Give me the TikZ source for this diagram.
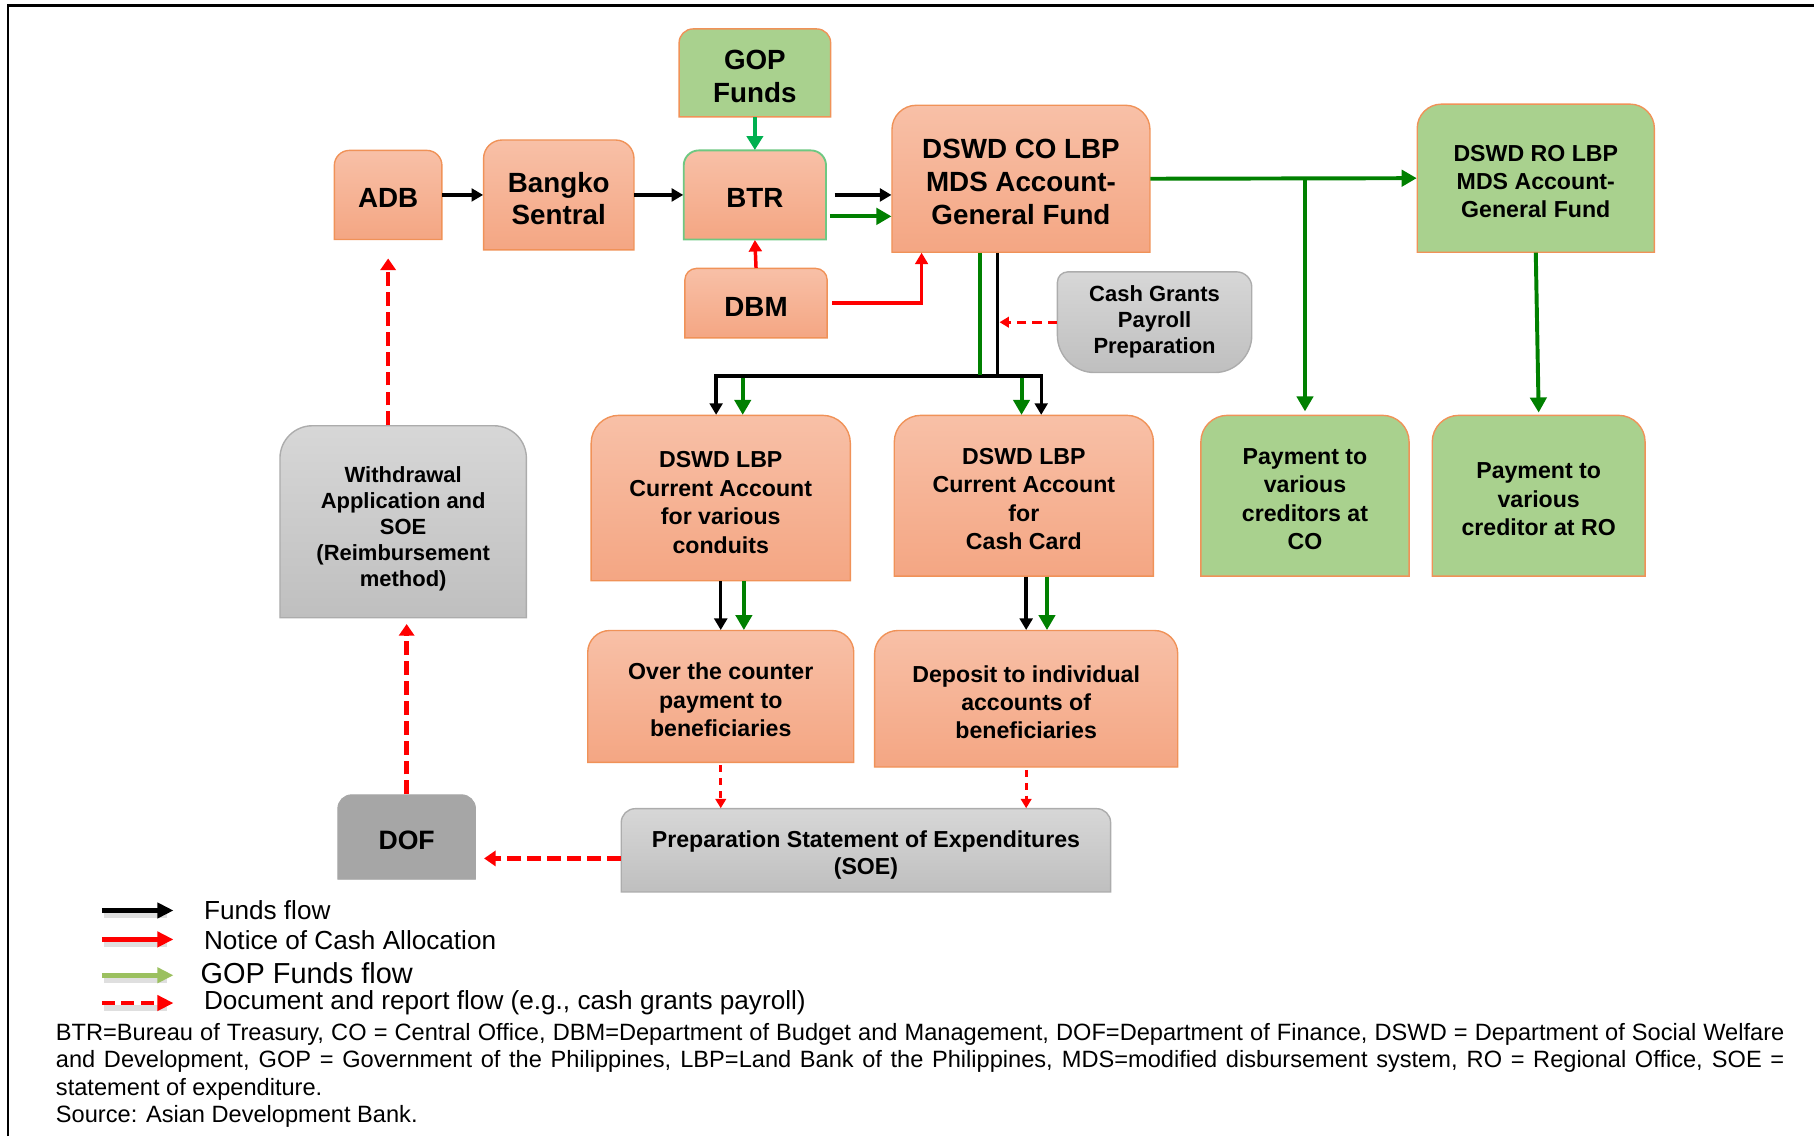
\documentclass[tikz,border=0pt]{standalone}
\usepackage{fontspec}
\setmainfont{Liberation Sans}
\usetikzlibrary{arrows.meta,calc}
\definecolor{orTop}{RGB}{248,192,167}
\definecolor{orBot}{RGB}{244,166,131}
\definecolor{orLine}{RGB}{240,146,88}
\definecolor{grFill}{RGB}{169,209,142}
\definecolor{gyTop}{RGB}{215,215,215}
\definecolor{gyBot}{RGB}{191,191,191}
\definecolor{gyLine}{RGB}{172,172,172}
\definecolor{dofGray}{RGB}{166,166,166}
\definecolor{flowGreen}{RGB}{0,128,0}
\definecolor{gopGreen}{RGB}{0,176,80}
\definecolor{legGreen}{RGB}{155,192,95}
\definecolor{btrLine}{RGB}{110,200,130}
\definecolor{nRed}{RGB}{255,0,0}
\tikzset{
  orangebox/.style={top color=orTop, bottom color=orBot, draw=orLine, line width=0.6pt},
  greenbox/.style={fill=grFill, draw=orLine, line width=0.6pt},
  btrbox/.style={top color=orTop, bottom color=orBot, draw=btrLine, line width=0.8pt},
  graybox/.style={top color=gyTop, bottom color=gyBot, draw=gyLine, line width=0.6pt},
  dofbox/.style={fill=dofGray, draw=dofGray, line width=0.4pt},
  boxtext/.style={inner sep=0pt, align=center, text=black},
  fundsflow/.style={draw=black, line width=1.45pt, -{Triangle[length=5pt,width=5.5pt]}},
  fundsline/.style={draw=black, line width=1.45pt},
  gopflow/.style={draw=flowGreen, line width=1.7pt, -{Triangle[length=6.5pt,width=7pt]}},
  gopline/.style={draw=flowGreen, line width=1.7pt},
  gopsrc/.style={draw=gopGreen, line width=1.7pt, -{Triangle[length=6pt,width=7pt]}},
  noticeflow/.style={draw=nRed, line width=1.5pt, -{Triangle[length=5pt,width=5.5pt]}},
  docflow/.style={draw=nRed, line width=2pt, dash pattern=on 6pt off 2.6pt, -{Triangle[length=5pt,width=6.5pt]}},
  docsmall/.style={draw=nRed, line width=1.2pt, dash pattern=on 3pt off 2.6pt, -{Triangle[length=4pt,width=4.5pt]}},
  legtext/.style={inner sep=0pt, anchor=base west, font=\fontsize{11.3}{13}\selectfont},
  legshadow/.style={draw=black!25, line width=2.6pt, opacity=0.5},
}
\newcommand\boxdrop{1.5pt}
\newcommand\mybox[9]{%
  \path[#7] (#2,#5) -- (#2,{#3+#6}) .. controls (#2,{#3+0.448*#6}) and ({#2+0.448*#6},#3) .. ({#2+#6},#3)
     -- ({#4-#6},#3) .. controls ({#4-0.448*#6},#3) and (#4,{#3+0.448*#6}) .. (#4,{#3+#6})
     -- (#4,#5) -- cycle;
  \node[inner sep=0pt, minimum width={(#4-#2)*0.5pt}, minimum height={(#5-#3)*0.5pt}] (#1) at ({(#2+#4)/2},{(#3+#5)/2}) {};
  \node[boxtext, font={#8}] (#1-t) at ([yshift=-\boxdrop]#1.center) {#9};
}
\begin{document}
\begin{tikzpicture}[x=0.5pt,y=-0.5pt]
\useasboundingbox (0,0) rectangle (1568,982);
% frame
\coordinate (fa) at (7,982);
\coordinate (fb) at (7,5);
\coordinate (fc) at (1568,5);
\draw[line width=1.2pt] (fa) -- (fb) -- (fc);

% boxes
\mybox{adb}{289}{130}{382}{207}{13}{orangebox}{\fontsize{12}{14}\selectfont\bfseries}{ADB}
\mybox{bs}{418}{121}{548}{216}{16}{orangebox}{\fontsize{12}{14}\selectfont\bfseries}{Bangko\\Sentral}
\mybox{gop}{587}{25}{718}{101}{12}{greenbox}{\fontsize{12}{14}\selectfont\bfseries}{GOP\\Funds}
\mybox{btr}{591}{130}{714}{207}{13}{btrbox}{\fontsize{12}{14}\selectfont\bfseries}{BTR}
\mybox{dbm}{592}{232}{715}{292}{10}{orangebox}{\fontsize{12}{14}\selectfont\bfseries}{DBM}
\mybox{dswco}{771}{91}{994}{218}{21}{orangebox}{\fontsize{12}{14.25}\selectfont\bfseries}{DSWD CO LBP\\MDS Account-\\General Fund}
\mybox{dswro}{1225}{90}{1430}{218}{21}{greenbox}{\fontsize{10}{12.25}\selectfont\bfseries}{DSWD RO LBP\\MDS Account-\\General Fund}
\renewcommand\boxdrop{3pt}
\mybox{wd}{242}{368}{455}{534}{28}{graybox}{\fontsize{9.5}{11.25}\selectfont\bfseries}{Withdrawal\\Application and\\SOE\\(Reimbursement\\method)}
\renewcommand\boxdrop{2pt}
\mybox{cond}{511}{359}{735}{502}{24}{orangebox}{\fontsize{10}{12.3}\selectfont\bfseries}{DSWD LBP\\Current Account\\for various\\conduits}
\renewcommand\boxdrop{1.5pt}
\mybox{card}{773}{359}{997}{498}{23}{orangebox}{\fontsize{10}{12.3}\selectfont\bfseries}{DSWD LBP\\Current Account\\for\\Cash Card}
\mybox{payco}{1038}{359}{1218}{498}{23}{greenbox}{\fontsize{10}{12.3}\selectfont\bfseries}{Payment to\\various\\creditors at\\CO}
\mybox{payro}{1238}{359}{1422}{498}{23}{greenbox}{\fontsize{10}{12.3}\selectfont\bfseries}{Payment to\\various\\creditor at RO}
\mybox{otc}{508}{545}{738}{659}{19}{orangebox}{\fontsize{10}{12.3}\selectfont\bfseries}{Over the counter\\payment to\\beneficiaries}
\mybox{dep}{756}{545}{1018}{663}{20}{orangebox}{\fontsize{10}{12}\selectfont\bfseries}{Deposit to individual\\accounts of\\beneficiaries}
\mybox{dof}{292}{687}{411}{760}{12}{dofbox}{\fontsize{11.5}{13}\selectfont\bfseries}{DOF}
\renewcommand\boxdrop{2pt}
\mybox{soe}{537}{699}{960}{771}{12}{graybox}{\fontsize{10}{12}\selectfont\bfseries}{Preparation Statement of Expenditures\\(SOE)}

% cash grants payroll preparation (rounded bottom)
\path[graybox] (914,244) .. controls (914,239) and (918,235) .. (923,235)
   -- (1069,235) .. controls (1076,235) and (1082,241) .. (1082,248)
   -- (1082,290) .. controls (1082,307) and (1068,322) .. (1050,322)
   -- (946,322) .. controls (928,322) and (914,307) .. (914,290) -- cycle;
\node[boxtext, font={\fontsize{9.5}{11.25}\selectfont\bfseries}, minimum width=84pt, minimum height=43.5pt] (cgp) at (998,278.5) {Cash Grants\\Payroll\\Preparation};

% ---- connectors ----
\draw[fundsflow] (adb.east) -- (bs.west);
\draw[fundsflow] (bs.east) -- (btr.west);
\coordinate (k1) at ([xshift=3.5pt]btr.east);
\draw[fundsflow] (k1) -- (k1 -| dswco.west);
\coordinate (g1) at ([shift={(3,18.5)}]btr.east);
\draw[gopflow] (g1) -- (g1 -| dswco.west);
\draw[gopsrc] (gop.south) -- (btr.north);
\draw[noticeflow] (dbm.north) -- (btr.south);
\coordinate (r1) at ([xshift=13pt]dswco.south west);
\draw[noticeflow] ([xshift=2pt]dbm.east) -| (r1);

% black bus
\coordinate (bj) at (862,325);
\coordinate (bl) at (619,325);
\coordinate (br) at (900,325);
\draw[fundsflow] (dswco.south -| bj) -- (bj) -- (bl) -- (bl |- cond.north);
\draw[fundsflow] (bj) -- (br) -- (br |- card.north);
% green bus
\coordinate (gj) at (847,324);
\draw[gopline] (dswco.south -| gj) -- (gj);
\coordinate (gl) at (642,326.5);
\coordinate (gr) at (883,326.5);
\draw[gopflow] (gl) -- (gl |- cond.north);
\draw[gopflow] (gr) -- (gr |- card.north);

% cash grants -> funds line
\coordinate (cg1) at ([xshift=1pt]cgp.west -| bj);
\draw[docsmall, line width=1.3pt, dash pattern=on 4pt off 2.6pt] (cgp.west) -- (cg1);

% conduits -> over the counter
\draw[fundsflow] (cond.south) -- (otc.north);
\coordinate (c2) at ([xshift=10pt]cond.south);
\draw[gopflow] (c2) -- (c2 |- otc.north);
% cash card -> deposit
\coordinate (c3) at (dep.north);
\draw[fundsflow] (c3 |- card.south) -- (c3);
\coordinate (c4) at ([xshift=9pt]dep.north);
\draw[gopflow] (c4 |- card.south) -- (c4);

% documents to SOE
\coordinate (o1) at ([yshift=-1pt]otc.south);
\draw[docsmall] (o1) -- (o1 |- soe.north);
\coordinate (d1) at ([yshift=-1pt]dep.south);
\draw[docsmall] (d1) -- (d1 |- soe.north);
% SOE -> DOF
\coordinate (s1) at ([yshift=-3.5pt]soe.west);
\coordinate (s2) at (s1 -| dof.east);
\draw[docflow] (s1) -- ([xshift=3.5pt]s2);
% DOF -> Withdrawal
\coordinate (w1) at (dof.north |- wd.south);
\draw[docflow] (dof.north) -- ([yshift=-2.5pt]w1);
% Withdrawal -> ADB
\coordinate (a1) at (adb.south |- wd.north);
\draw[docflow] (a1) -- ([yshift=-8pt]adb.south);

% DSWD CO -> RO and creditors
\draw[gopflow] (dswco.east) -- (dswro.west);
\coordinate (gb) at (payco.north |- dswco.east);
\draw[gopflow] (gb) -- ([yshift=1.5pt]payco.north);
\draw[gopflow] (dswro.south) -- ([yshift=1pt]payro.north);

% ---- legend ----
\coordinate (l1a) at (88,787);  \coordinate (l1b) at (150,787);
\coordinate (l2a) at (88,812);  \coordinate (l2b) at (150,812);
\coordinate (l3a) at (88,843);  \coordinate (l3b) at (150,843);
\coordinate (l4a) at (88,867);  \coordinate (l4b) at (150,867);
\draw[legshadow] ([shift={(2,4)}]l1a) -- ([shift={(-6,4)}]l1b);
\draw[legshadow] ([shift={(2,4)}]l2a) -- ([shift={(-6,4)}]l2b);
\draw[legshadow] ([shift={(2,4)}]l3a) -- ([shift={(-6,4)}]l3b);
\draw[legshadow] ([shift={(2,4)}]l4a) -- ([shift={(-6,4)}]l4b);
\draw[draw=black, line width=2pt, -{Triangle[length=7pt,width=6.5pt]}] (l1a) -- (l1b);
\draw[draw=nRed, line width=2pt, -{Triangle[length=7pt,width=6.5pt]}] (l2a) -- (l2b);
\draw[draw=legGreen, line width=2pt, -{Triangle[length=7pt,width=6.5pt]}] (l3a) -- (l3b);
\draw[draw=nRed, line width=2pt, dash pattern=on 5.5pt off 3pt, -{Triangle[length=7pt,width=6.5pt]}] (l4a) -- (l4b);
\node[legtext] (t1) at (176,794.5) {Funds flow};
\node[legtext] (t2) at (176,821) {Notice of Cash Allocation};
\node[legtext, font=\fontsize{12.5}{14}\selectfont] (t3) at (173,850) {GOP Funds flow};
\node[legtext] (t4) at (176,873) {Document and report flow (e.g., cash grants payroll)};

% ---- footnote ----
\node[inner sep=0pt, anchor=north west, text width=747pt, align=justify,
      font=\fontsize{10.2}{11.85}\selectfont] (fn) at (48,884)
 {BTR=Bureau of Treasury, CO = Central Office, DBM=Department of Budget and Management, DOF=Department of Finance, DSWD = Department of Social Welfare\linebreak
 and Development, GOP = Government of the Philippines, LBP=Land Bank of the Philippines, MDS=modified disbursement system, RO = Regional Office, SOE =\linebreak
 statement of expenditure.\\
 Source: Asian Development Bank.};
\end{tikzpicture}
\end{document}
